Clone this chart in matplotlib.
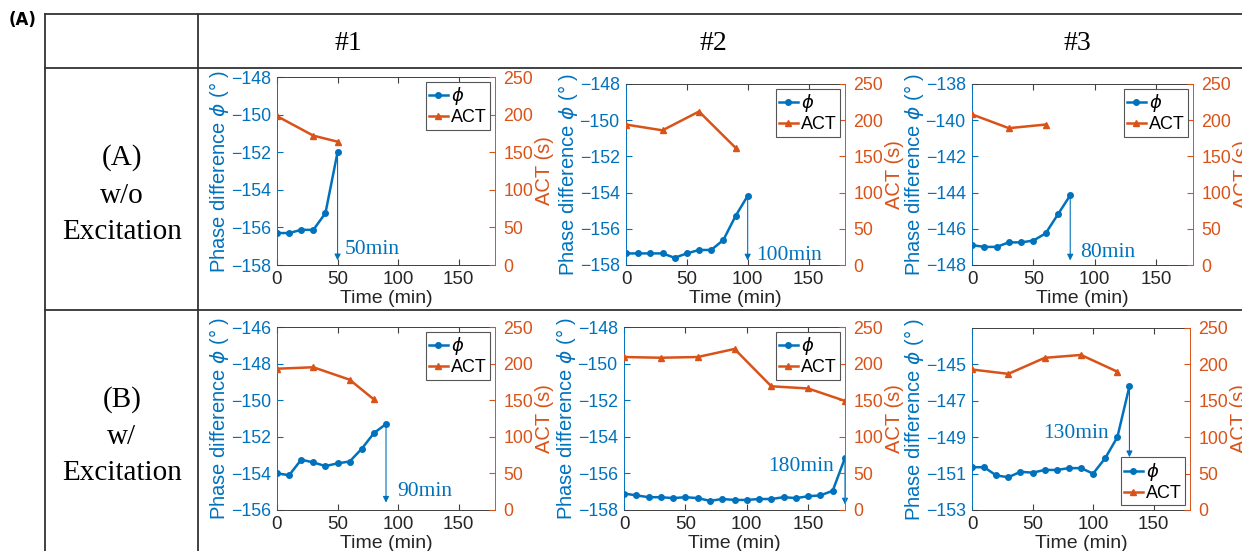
import matplotlib
matplotlib.use('Agg')
import matplotlib.pyplot as plt
from matplotlib.lines import Line2D

plt.rcParams['font.family'] = ['Liberation Sans', 'DejaVu Sans', 'Noto Sans CJK JP']
plt.rcParams['axes.unicode_minus'] = True
plt.rcParams['mathtext.fontset'] = 'dejavusans'

# ---------------- data ----------------
col_titles = ['#1', '#2', '#3']
row_titles = [['(A)', 'w/o', 'Excitation'], ['(B)', 'w/', 'Excitation']]

phi1_t = [0, 10, 20, 30, 40, 50]
phi1 = [-156.3, -156.3, -156.13, -156.13, -155.24, -152.0]
act1_t = [0, 30, 50]
act1 = [198, 172, 164]

phi2_t = [0, 10, 20, 30, 40, 50, 60, 70, 80, 90, 100]
phi2 = [-157.36, -157.36, -157.36, -157.36, -157.6, -157.36, -157.17, -157.17, -156.62, -155.3, -154.18]
act2_t = [0, 30, 60, 90]
act2 = [194, 186, 212, 162]

phi3_t = [0, 10, 20, 30, 40, 50, 60, 70, 80]
phi3 = [-146.9, -147.0, -147.0, -146.75, -146.75, -146.65, -146.25, -145.2, -144.15]
act3_t = [0, 30, 60]
act3 = [208, 189, 194]

phi4_t = [0, 10, 20, 30, 40, 50, 60, 70, 80, 90]
phi4 = [-154.0, -154.1, -153.25, -153.4, -153.6, -153.45, -153.35, -152.65, -151.8, -151.3]
act4_t = [0, 30, 60, 80]
act4 = [193, 195, 178, 151]

phi5_t = [0, 10, 20, 30, 40, 50, 60, 70, 80, 90, 100, 110, 120, 130, 140, 150, 160, 170, 180]
phi5 = [-157.1, -157.2, -157.3, -157.3, -157.35, -157.3, -157.35, -157.5, -157.4, -157.45,
        -157.45, -157.4, -157.4, -157.3, -157.35, -157.25, -157.2, -156.95, -155.15]
act5_t = [0, 30, 60, 90, 120, 150, 180]
act5 = [209, 208, 209, 220, 169, 166, 149]

phi6_t = [0, 10, 20, 30, 40, 50, 60, 70, 80, 90, 100, 110, 120, 130]
phi6 = [-150.65, -150.65, -151.1, -151.2, -150.9, -150.95, -150.8, -150.8, -150.7, -150.7,
        -151.0, -150.15, -149.0, -146.2]
act6_t = [0, 30, 60, 90, 120]
act6 = [193, 187, 209, 213, 190]

arrow_labels = ['50min', '100min', '80min', '90min', '180min', '130min']
arrow_end = [-157.75, -157.75, -147.75, -155.6, -157.7, -150.1]

phi_ylims = [(-158, -148), (-158, -148), (-148, -138), (-156, -146), (-158, -148), (-153, -143)]
phi_yticks = [[-158, -156, -154, -152, -150, -148],
              [-158, -156, -154, -152, -150, -148],
              [-148, -146, -144, -142, -140, -138],
              [-156, -154, -152, -150, -148, -146],
              [-158, -156, -154, -152, -150, -148],
              [-153, -151, -149, -147, -145]]
act_yticks = [0, 50, 100, 150, 200, 250]
x_ticks = [0, 50, 100, 150]

# ---------------- layout ----------------
W, H = 1242, 551
fig = plt.figure(figsize=(W / 100, H / 100), dpi=100)

BLUE = '#0072BD'
ORANGE = '#D95319'
GRAY = '#404040'

def rect(l, t, r, b):
    return [l / W, 1 - b / H, (r - l) / W, (b - t) / H]

def fx(x):
    return x / W

def fy(y):
    return 1 - y / H

boxes = [(277, 77, 495, 265), (626, 84, 845, 265), (972, 84, 1193, 265),
         (277, 327, 495, 510), (624, 327, 845, 510), (972, 328, 1190, 510)]

phis = [(phi1_t, phi1), (phi2_t, phi2), (phi3_t, phi3), (phi4_t, phi4), (phi5_t, phi5), (phi6_t, phi6)]
acts = [(act1_t, act1), (act2_t, act2), (act3_t, act3), (act4_t, act4), (act5_t, act5), (act6_t, act6)]
# text placement: (data y, x offset in points, horizontal alignment)
text_place = [(-157.2, 5, 'left'), (-157.45, 6, 'left'), (-147.3, 7, 'left'),
              (-155.0, 8, 'left'), (-155.65, -8, 'right'), (-148.77, -15, 'right')]
legend_loc = ['upper right'] * 5 + ['lower right']

for i in range(6):
    ax = fig.add_axes(rect(*boxes[i]))
    t, p = phis[i]
    ta, a = acts[i]
    l1, = ax.plot(t, p, color=BLUE, marker='.', ms=8, lw=1.8)
    ax.set_xlim(0, 180)
    ax.set_ylim(*phi_ylims[i])
    ax.set_yticks(phi_yticks[i])
    ax.set_xticks(x_ticks)
    ax.tick_params(axis='y', direction='in', colors=BLUE, labelsize=12.8, length=4, pad=4.5)
    ax.tick_params(axis='x', direction='in', top=True, colors=GRAY, labelcolor='#262626',
                   labelsize=13.5, length=4, pad=4)
    ax.spines['left'].set_color(BLUE)
    ax.spines['right'].set_visible(False)
    for s in ('top', 'bottom'):
        ax.spines[s].set_color(GRAY)
        ax.spines[s].set_linewidth(0.7)
    ax.spines['left'].set_linewidth(0.7)
    ax.set_xlabel('Time (min)', fontsize=14, color='#262626', labelpad=2)
    ax.set_ylabel('Phase difference $\\phi$ (° )', fontsize=14.5, color=BLUE, labelpad=0)

    ax2 = ax.twinx()
    l2, = ax2.plot(ta, a, color=ORANGE, marker='^', ms=4.5, lw=1.8)
    ax2.set_ylim(0, 250)
    ax2.set_yticks(act_yticks)
    ax2.tick_params(axis='y', direction='in', colors=ORANGE, labelsize=12.8, length=4, pad=6)
    for s in ('top', 'bottom', 'left'):
        ax2.spines[s].set_visible(False)
    ax2.spines['right'].set_color(ORANGE)
    ax2.spines['right'].set_linewidth(0.7)
    ax2.set_ylabel('ACT (s)', fontsize=14.5, color=ORANGE, labelpad=1)

    # arrow marking the time point
    ax.annotate('', xy=(t[-1], arrow_end[i]), xytext=(t[-1], p[-1]),
                arrowprops=dict(arrowstyle='-|>', color=BLUE, lw=0.8,
                                mutation_scale=9, shrinkA=0, shrinkB=0))
    ty, dx, ha = text_place[i]
    ax.annotate(arrow_labels[i], xy=(t[-1], ty), xytext=(dx, 0), textcoords='offset points',
                ha=ha, va='center', color=BLUE, fontsize=15.5, family='Liberation Serif')

    leg = ax2.legend([l1, l2], ['$\\phi$', 'ACT'], loc=legend_loc[i], fontsize=13,
                     frameon=True, fancybox=False, edgecolor='#555555', framealpha=1,
                     handlelength=1.0, handletextpad=0.2, borderpad=0.2,
                     labelspacing=0.1, borderaxespad=0.25)
    leg.get_frame().set_linewidth(0.8)

# ---------------- table frame ----------------
lc = '#333333'
lw = 1.3
fig.add_artist(Line2D([fx(45), 1], [fy(14), fy(14)], color=lc, lw=lw))
fig.add_artist(Line2D([fx(45), 1], [fy(68), fy(68)], color=lc, lw=lw))
fig.add_artist(Line2D([fx(45), 1], [fy(310), fy(310)], color=lc, lw=lw))
fig.add_artist(Line2D([fx(45), fx(45)], [fy(14), 0], color=lc, lw=lw))
fig.add_artist(Line2D([fx(198), fx(198)], [fy(14), 0], color=lc, lw=lw))

fig.text(fx(9), fy(20), '(A)', fontsize=12, fontweight='bold', family='DejaVu Sans',
         ha='left', va='center')

for x, s in zip([348, 713, 1077], col_titles):
    fig.text(fx(x), fy(43), s, fontsize=20, family='Liberation Serif', ha='center', va='center')

for ys, lines in zip([[158, 196, 232], [400, 437, 473]], row_titles):
    for y, s in zip(ys, lines):
        fig.text(fx(122), fy(y), s, fontsize=21, family='Liberation Serif',
                 ha='center', va='center')

fig.savefig('out.png', dpi=100)
